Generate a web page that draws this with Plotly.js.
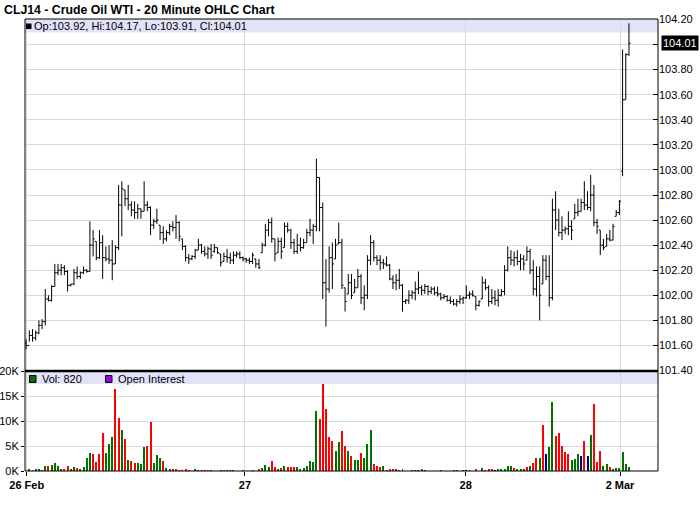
<!DOCTYPE html>
<html><head><meta charset="utf-8">
<script src="https://cdn.plot.ly/plotly-3.0.1.min.js"></script>
<style>html,body{margin:0;padding:0;background:#fff}#chart{width:700px;height:512px}</style>
</head><body><div id="chart"></div>
<script>
// ---- data (20-minute bars, CLJ14) ----
const openP = [101.62,101.60,101.68,101.66,101.70,101.76,101.79,101.97,101.96,102.07,
102.18,102.20,102.22,102.19,102.08,102.09,102.18,102.15,102.18,102.20,
102.19,102.40,102.43,102.30,102.42,102.30,102.29,102.28,102.25,102.38,
102.72,102.84,102.77,102.72,102.68,102.66,102.69,102.67,102.72,102.70,
102.56,102.59,102.56,102.50,102.45,102.50,102.55,102.54,102.58,102.45,
102.39,102.30,102.29,102.31,102.36,102.40,102.35,102.33,102.37,102.35,
102.38,102.33,102.27,102.31,102.30,102.28,102.32,102.33,102.30,102.29,
102.28,102.27,102.29,102.25,102.34,102.40,102.52,102.58,102.45,102.34,
102.43,102.38,102.55,102.52,102.42,102.35,102.40,102.38,102.42,102.50,
102.52,102.55,102.94,102.70,102.10,102.05,102.30,102.29,102.41,102.42,
102.06,102.01,102.10,102.02,102.06,102.15,101.98,102.00,102.28,102.42,
102.30,102.28,102.26,102.25,102.24,102.13,102.10,102.12,102.08,101.95,
101.96,102.00,102.02,102.05,102.06,102.04,102.07,102.03,102.05,102.02,
102.01,101.98,101.99,101.96,101.95,101.93,101.95,101.97,101.98,102.00,
102.01,101.99,101.92,101.97,102.10,102.06,101.95,101.98,101.96,102.00,
102.03,102.20,102.30,102.28,102.30,102.27,102.29,102.28,102.35,102.20,
102.05,102.15,102.09,102.28,102.15,101.98,102.68,102.60,102.50,102.52,
102.53,102.55,102.61,102.66,102.67,102.74,102.72,102.70,102.80,102.58,
102.52,102.40,102.39,102.45,102.44,102.63,102.66,102.99,103.56,103.92];
const highP = [101.65,101.72,101.73,101.72,101.80,101.81,102.05,102.00,102.08,102.25,
102.25,102.25,102.24,102.20,102.09,102.21,102.23,102.19,102.23,102.21,
102.59,102.52,102.43,102.52,102.48,102.39,102.40,102.44,102.40,102.88,
102.91,102.84,102.88,102.75,102.75,102.73,102.69,102.91,102.75,102.71,
102.61,102.69,102.56,102.55,102.52,102.57,102.59,102.64,102.59,102.45,
102.40,102.33,102.32,102.37,102.45,102.41,102.39,102.39,102.41,102.41,
102.38,102.33,102.34,102.37,102.34,102.35,102.35,102.35,102.31,102.30,
102.30,102.34,102.29,102.29,102.42,102.57,102.61,102.62,102.45,102.46,
102.46,102.58,102.58,102.53,102.45,102.49,102.46,102.45,102.53,102.61,
102.57,103.09,102.94,102.74,102.29,102.39,102.42,102.45,102.58,102.45,
102.06,102.17,102.17,102.13,102.21,102.17,102.08,102.32,102.48,102.44,
102.32,102.32,102.29,102.31,102.25,102.16,102.17,102.21,102.09,101.97,
102.04,102.04,102.11,102.19,102.08,102.09,102.08,102.07,102.07,102.07,
102.02,102.01,102.00,101.99,101.97,101.97,102.00,101.99,102.08,102.03,
102.04,101.99,101.96,102.15,102.13,102.08,102.05,102.04,102.05,102.05,
102.24,102.39,102.36,102.35,102.36,102.33,102.32,102.39,102.37,102.28,
102.23,102.23,102.32,102.32,102.32,102.77,102.83,102.69,102.63,102.55,
102.67,102.60,102.73,102.77,102.77,102.91,102.83,102.96,102.88,102.61,
102.52,102.45,102.49,102.52,102.57,102.68,102.76,103.96,103.93,104.17];
const lowP = [101.57,101.63,101.63,101.64,101.69,101.73,101.76,101.95,101.95,102.07,
102.16,102.16,102.16,102.03,102.07,102.08,102.13,102.13,102.17,102.18,
102.19,102.31,102.28,102.29,102.13,102.27,102.25,102.12,102.25,102.36,
102.47,102.71,102.68,102.63,102.61,102.61,102.61,102.67,102.67,102.48,
102.53,102.57,102.44,102.41,102.43,102.48,102.51,102.45,102.43,102.36,
102.27,102.25,102.28,102.29,102.36,102.33,102.31,102.29,102.29,102.34,
102.33,102.23,102.27,102.26,102.25,102.25,102.30,102.29,102.27,102.26,
102.25,102.25,102.22,102.21,102.34,102.39,102.47,102.42,102.27,102.34,
102.29,102.38,102.50,102.37,102.33,102.33,102.35,102.37,102.42,102.47,
102.41,102.51,102.51,101.97,101.75,102.02,102.05,102.29,102.41,102.05,
101.87,102.01,101.97,102.02,102.06,101.93,101.88,101.97,102.24,102.27,
102.24,102.20,102.21,102.23,102.12,102.05,102.04,102.05,101.87,101.93,
101.93,101.97,101.96,102.01,102.00,102.01,102.00,102.01,102.00,101.99,
101.96,101.97,101.95,101.93,101.92,101.91,101.93,101.93,101.97,101.97,
101.99,101.88,101.91,101.97,102.04,101.91,101.93,101.92,101.91,101.99,
102.00,102.19,102.24,102.23,102.24,102.20,102.20,102.28,102.17,102.00,
101.99,101.80,102.09,102.12,101.91,101.96,102.52,102.47,102.44,102.49,
102.48,102.44,102.61,102.63,102.67,102.68,102.68,102.67,102.55,102.49,
102.32,102.36,102.39,102.43,102.44,102.63,102.64,102.95,103.56,103.91];
const closeP = [101.60,101.68,101.66,101.70,101.76,101.79,101.97,101.96,102.07,102.18,
102.20,102.22,102.19,102.08,102.09,102.18,102.15,102.18,102.20,102.19,
102.40,102.45,102.30,102.42,102.30,102.29,102.28,102.25,102.38,102.72,
102.85,102.77,102.72,102.68,102.66,102.69,102.67,102.72,102.70,102.56,
102.59,102.60,102.50,102.45,102.50,102.55,102.54,102.58,102.47,102.39,
102.30,102.29,102.31,102.36,102.40,102.35,102.33,102.37,102.32,102.38,
102.34,102.26,102.31,102.30,102.28,102.32,102.33,102.30,102.29,102.28,
102.27,102.32,102.25,102.22,102.40,102.52,102.58,102.45,102.33,102.43,
102.35,102.55,102.52,102.42,102.35,102.40,102.38,102.42,102.50,102.52,
102.55,102.94,102.70,102.10,102.05,102.30,102.25,102.40,102.42,102.08,
101.95,102.10,102.00,102.06,102.15,101.98,102.00,102.28,102.42,102.30,
102.28,102.26,102.25,102.24,102.13,102.10,102.12,102.08,101.95,101.96,
102.00,102.02,102.05,102.06,102.04,102.07,102.03,102.05,102.02,102.01,
101.98,101.99,101.96,101.95,101.93,101.95,101.97,101.98,102.00,102.01,
102.00,101.92,101.95,102.10,102.06,101.95,101.98,101.96,102.00,102.03,
102.20,102.30,102.28,102.30,102.27,102.29,102.25,102.35,102.20,102.05,
102.15,102.00,102.28,102.15,101.98,102.68,102.60,102.50,102.52,102.53,
102.55,102.52,102.66,102.67,102.74,102.72,102.70,102.80,102.58,102.55,
102.40,102.38,102.45,102.44,102.55,102.66,102.75,103.56,103.92,104.01];
const volume = [0,400,200,500,500,300,1000,1000,1200,1600,
1000,500,400,1000,400,800,600,400,800,2600,
3600,3400,1800,3400,7600,3600,5400,6800,16400,10600,
8200,6400,2200,2000,1600,1600,1400,4800,5000,9800,
1600,3200,2600,2000,600,400,400,400,200,200,
400,200,0,400,200,200,200,200,200,0,
0,200,200,200,200,200,0,0,200,0,
0,300,0,400,600,1200,800,2000,800,400,
600,1000,800,800,800,800,400,600,1000,2000,
1800,12000,10400,17400,12400,6800,6000,4000,5800,8000,
5000,4000,3000,2200,2200,3600,2600,5400,8200,1400,
1000,800,1000,200,400,400,400,200,400,0,
0,200,200,200,400,200,0,0,0,0,
200,0,0,0,200,200,0,200,200,200,
0,400,0,600,200,400,400,200,400,400,
400,1000,1000,600,400,400,400,800,1000,1600,
2600,2600,9200,3400,4800,13800,7000,7600,5000,3800,
3400,2200,2400,3400,3000,6000,3000,7200,13400,1800,
4000,1000,1400,800,400,600,600,3800,1400,820];
// volume bar direction, one char per bar: u = up (green), d = down (red), n = unchanged (navy)
const volDirection =
  "uuduuuuduu" + "uudduuduuu" + "udddduuudd" + "ududduuudd" + "uuuduudddd" +
  "dduudddduu" + "uuddduuudu" + "ududuuuddu" + "duddduuuuu" + "uuddddduud" +
  "duduuduuud" + "dduddduddu" + "uududuuuuu" + "duuudduunu" + "uduudddnuu" +
  "uuuduuudud" + "dudnuudddd" + "duuundnudd" + "duuduuuuuu";
const dayTickPos = [0.2, 68.6, 137.8, 186.2];
const dayTickText = ["26 Feb", "27", "28", "2 Mar"];
const priceTicks = [101.4, 101.6, 101.8, 102.0, 102.2, 102.4, 102.6, 102.8, 103.0, 103.2, 103.4, 103.6, 103.8, 104.0, 104.2];
const volTicks = [0, 5000, 10000, 15000, 20000];
const volTickText = ["0K", "5K", "10K", "15K", "20K"];
const lastBar = {op: 103.92, hi: 104.17, lo: 103.91, cl: 104.01, vol: 820};
</script>
<script>
const FONT = "Liberation Sans, Arial, sans-serif";
const W = 700, H = 512;
const M = {l: 25, r: 42, t: 19, b: 41};
const PH = H - M.t - M.b;
const py = y => (H - M.b - y) / PH;           // pixel y -> paper y
const split = py(371);                         // price / volume boundary

const bars = openP.map((_, i) => i);
const colMap = {u: "#007000", d: "#ff0000", n: "#000080"};
const volColors = volDirection.split("").map(c => colMap[c]);

const ohlc = {
  type: "ohlc", x: bars, open: openP, high: highP, low: lowP, close: closeP,
  xaxis: "x", yaxis: "y", tickwidth: 0.5, hoverinfo: "skip",
  increasing: {line: {color: "#000", width: 1}},
  decreasing: {line: {color: "#000", width: 1}},
  showlegend: false
};
const vol = {
  type: "bar", x: bars, y: volume, xaxis: "x", yaxis: "y2",
  marker: {color: volColors, line: {width: 0}}, width: 0.62,
  hoverinfo: "skip", showlegend: false
};

// the live-price box covers the 104.00 label, as in the reference
const priceTickText = priceTicks.map(v => Math.abs(v - lastBar.cl) < 0.05 ? "" : v.toFixed(2));

const grid = "#d8d8d8";
const layout = {
  width: W, height: H, margin: M, paper_bgcolor: "#fff", plot_bgcolor: "#fff",
  showlegend: false, bargap: 0,
  font: {family: FONT, size: 11, color: "#000"},
  title: {text: "<b>CLJ14 - Crude Oil WTI - 20 Minute OHLC Chart</b>",
    font: {family: FONT, size: 12.3, color: "#000"},
    xref: "container", yref: "container", x: 4 / W, xanchor: "left",
    y: 1 - 10 / H, yanchor: "middle"},
  xaxis: {
    range: [-0.35, 198.1], anchor: "y2", tickmode: "array", tickvals: dayTickPos,
    ticktext: dayTickText.map(t => "<b>" + t + "</b>"),
    ticks: "outside", ticklen: 4, tickcolor: "#000", showgrid: true, gridcolor: grid,
    zeroline: false, showline: false, rangeslider: {visible: false},
    tickfont: {family: FONT, size: 11, color: "#000"}, fixedrange: true
  },
  yaxis: {
    domain: [split, 1], range: [101.396, 104.204], side: "right", anchor: "x",
    tickmode: "array", tickvals: priceTicks, ticktext: priceTickText,
    ticks: "inside", ticklen: 5, ticklabeloverflow: "allow",
    tickcolor: "#000", showgrid: true, gridcolor: grid, zeroline: false, showline: false,
    tickfont: {family: FONT, size: 11, color: "#000"}, fixedrange: true
  },
  yaxis2: {
    domain: [0, split], range: [0, 20000], side: "left", anchor: "x",
    tickmode: "array", tickvals: volTicks, ticktext: volTickText,
    ticks: "outside", ticklen: 3, tickcolor: "#000", showgrid: true, gridcolor: grid,
    zeroline: false, showline: false, ticklabelstandoff: 0,
    tickfont: {family: FONT, size: 11, color: "#000"}, fixedrange: true
  },
  shapes: [
    // legend bands
    {type: "rect", xref: "paper", yref: "paper", x0: 0, x1: 1, y0: py(32.5), y1: 1,
     fillcolor: "#e2e2f8", line: {width: 0}, layer: "below"},
    {type: "rect", xref: "paper", yref: "paper", x0: 0, x1: 1, y0: py(384), y1: split,
     fillcolor: "#e2e2f8", line: {width: 0}, layer: "below"},
    // frame
    {type: "rect", xref: "paper", yref: "paper", x0: 0, x1: 1, y0: 0, y1: 1,
     line: {color: "#000", width: 1}, fillcolor: "rgba(0,0,0,0)", layer: "above"},
    {type: "line", xref: "paper", yref: "paper", x0: 0, x1: 1, y0: split, y1: split,
     line: {color: "#000", width: 2.5}, layer: "above"},
    // legend swatches
    {type: "rect", xref: "paper", yref: "paper", xsizemode: "pixel", ysizemode: "pixel",
     xanchor: 0, yanchor: 1, x0: 1, x1: 6.5, y0: -4.5, y1: -10,
     fillcolor: "#000", line: {width: 0}},
    {type: "rect", xref: "paper", yref: "paper", xsizemode: "pixel", ysizemode: "pixel",
     xanchor: 0, yanchor: split, x0: 4.5, x1: 11, y0: -4.5, y1: -11.5,
     fillcolor: "#007000", line: {color: "#000", width: 1}},
    {type: "rect", xref: "paper", yref: "paper", xsizemode: "pixel", ysizemode: "pixel",
     xanchor: 0, yanchor: split, x0: 80.5, x1: 87, y0: -4.5, y1: -11.5,
     fillcolor: "#9900ee", line: {color: "#000", width: 1}}
  ],
  annotations: [
    {xref: "paper", yref: "paper", x: 0, xshift: 8, y: py(26), xanchor: "left", yanchor: "middle",
     text: "Op:" + lastBar.op.toFixed(2) + ", Hi:" + lastBar.hi.toFixed(2) + ", Lo:" +
       lastBar.lo.toFixed(2) + ", Cl:" + lastBar.cl.toFixed(2),
     showarrow: false, borderpad: 0, font: {family: FONT, size: 11, color: "#000"}},
    {xref: "paper", yref: "paper", x: 0, xshift: 15.5, y: py(378.5), xanchor: "left", yanchor: "middle",
     text: "Vol: " + lastBar.vol, showarrow: false, borderpad: 0,
     font: {family: FONT, size: 11, color: "#000"}},
    {xref: "paper", yref: "paper", x: 0, xshift: 91.5, y: py(378.5), xanchor: "left", yanchor: "middle",
     text: "Open Interest", showarrow: false, borderpad: 0,
     font: {family: FONT, size: 11, color: "#000"}},
    {xref: "paper", yref: "y", x: 1, xshift: 3, y: lastBar.cl, xanchor: "left", yanchor: "middle",
     text: lastBar.cl.toFixed(2), showarrow: false, bgcolor: "#000", borderpad: 1,
     font: {family: FONT, size: 11, color: "#fff"}}
  ]
};

Plotly.newPlot("chart", [vol, ohlc], layout, {staticPlot: true, displayModeBar: false});
</script>
</body></html>
